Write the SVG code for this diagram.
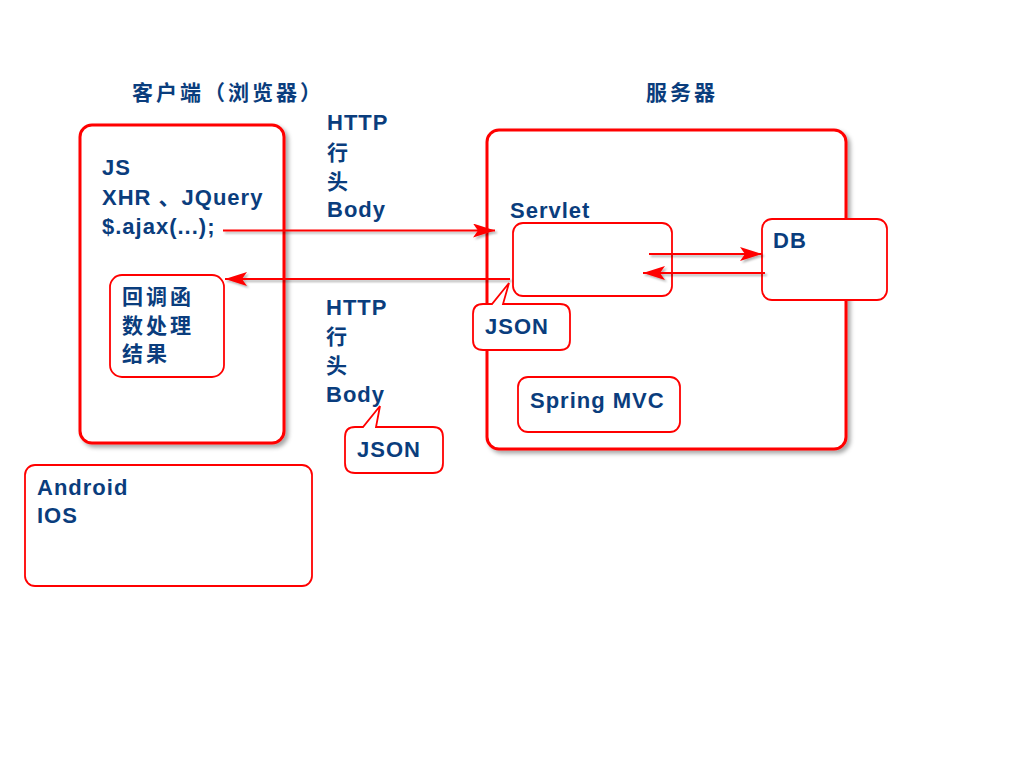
<svg xmlns="http://www.w3.org/2000/svg" width="1024" height="768" viewBox="0 0 1024 768">
  <style>
    .lat { font-family: "Liberation Sans", "Noto Sans CJK SC", sans-serif; font-weight: bold; font-size: 22px; fill: #0A3D7D; letter-spacing: 1px; }
    .cjk { font-family: "Noto Sans CJK SC", sans-serif; font-weight: bold; font-size: 21px; fill: #0A3D7D; letter-spacing: 3px; }
    .big { fill: #fff; stroke: #FF0000; stroke-width: 3; }
    .small { fill: #fff; stroke: #FF0000; stroke-width: 1.8; }
    .conn { stroke: #FF0000; stroke-width: 2; fill: none; }
  </style>
  <defs>
    <filter id="sh" x="-10%" y="-10%" width="130%" height="130%">
      <feDropShadow dx="3" dy="3" stdDeviation="2" flood-color="#000" flood-opacity="0.35"/>
    </filter>
    <filter id="shl" filterUnits="userSpaceOnUse" x="0" y="0" width="1024" height="768">
      <feDropShadow dx="2" dy="2" stdDeviation="1.2" flood-color="#000" flood-opacity="0.3"/>
    </filter>
    <marker id="ah" markerUnits="userSpaceOnUse" markerWidth="24" markerHeight="16" refX="22" refY="7" orient="auto">
      <path d="M0,0 L22,7 L0,14 L5,7 Z" fill="#FF0000"/>
    </marker>
  </defs>
  <rect width="1024" height="768" fill="#fff"/>

  <g id="title-client"><text class="cjk" x="132" y="100" font-size="22">客户端（浏览器）</text></g>
  <g id="title-server"><text class="cjk" x="646" y="100" font-size="22">服务器</text></g>

  <g id="client">
    <rect class="big" x="80" y="125" width="204" height="318" rx="12" filter="url(#sh)"/>
    <text class="lat" x="102" y="175">JS</text>
    <text class="lat" x="102" y="205">XHR 、JQuery</text>
    <text class="lat" x="102" y="234">$.ajax(...);</text>
  </g>

  <g id="server">
    <rect class="big" x="487" y="130" width="359" height="319" rx="12" filter="url(#sh)"/>
    <text class="lat" x="510" y="218" font-size="21">Servlet</text>
  </g>

  <g id="callback">
    <rect class="small" x="110" y="275" width="114" height="102" rx="12"/>
    <text class="cjk" x="122" y="304">回调函</text>
    <text class="cjk" x="122" y="333">数处理</text>
    <text class="cjk" x="122" y="361">结果</text>
  </g>

  <g id="servlet">
    <rect class="small" x="513" y="223" width="159" height="73" rx="10"/>
  </g>

  <g id="db">
    <rect class="small" x="762" y="219" width="125" height="81" rx="10"/>
    <text class="lat" x="773" y="248">DB</text>
  </g>

  <g id="springmvc">
    <rect class="small" x="518" y="377" width="162" height="55" rx="10"/>
    <text class="lat" x="530" y="408">Spring MVC</text>
  </g>

  <g id="mobile">
    <rect class="small" x="25" y="465" width="287" height="121" rx="10"/>
    <text class="lat" x="37" y="495">Android</text>
    <text class="lat" x="37" y="523">IOS</text>
  </g>

  <g id="http-request">
    <text class="lat" x="327" y="130">HTTP</text>
    <text class="cjk" x="327" y="160">行</text>
    <text class="cjk" x="327" y="189">头</text>
    <text class="lat" x="327" y="217">Body</text>
  </g>

  <g id="http-response">
    <text class="lat" x="326" y="315">HTTP</text>
    <text class="cjk" x="326" y="344">行</text>
    <text class="cjk" x="326" y="373">头</text>
    <text class="lat" x="326" y="402">Body</text>
  </g>

  <g id="connectors">
    <line class="conn" x1="223" y1="230.5" x2="495" y2="230.5" marker-end="url(#ah)" filter="url(#shl)"/>
    <line class="conn" x1="510" y1="279" x2="225" y2="279" marker-end="url(#ah)" filter="url(#shl)"/>
    <line class="conn" x1="649" y1="254" x2="762" y2="254" marker-end="url(#ah)" filter="url(#shl)"/>
    <line class="conn" x1="765" y1="273" x2="643" y2="273" marker-end="url(#ah)" filter="url(#shl)"/>
  </g>

  <g id="json-server">
    <path class="small" d="M483,304 L492,304 L509,283 L503,304 L560,304 Q570,304 570,314 L570,340 Q570,350 560,350 L483,350 Q473,350 473,340 L473,314 Q473,304 483,304 Z"/>
    <text class="lat" x="485" y="334">JSON</text>
  </g>

  <g id="json-body">
    <path class="small" d="M355,427 L363,427 L380,406 L376,427 L433,427 Q443,427 443,437 L443,463 Q443,473 433,473 L355,473 Q345,473 345,463 L345,437 Q345,427 355,427 Z"/>
    <text class="lat" x="357" y="457">JSON</text>
  </g>
</svg>
